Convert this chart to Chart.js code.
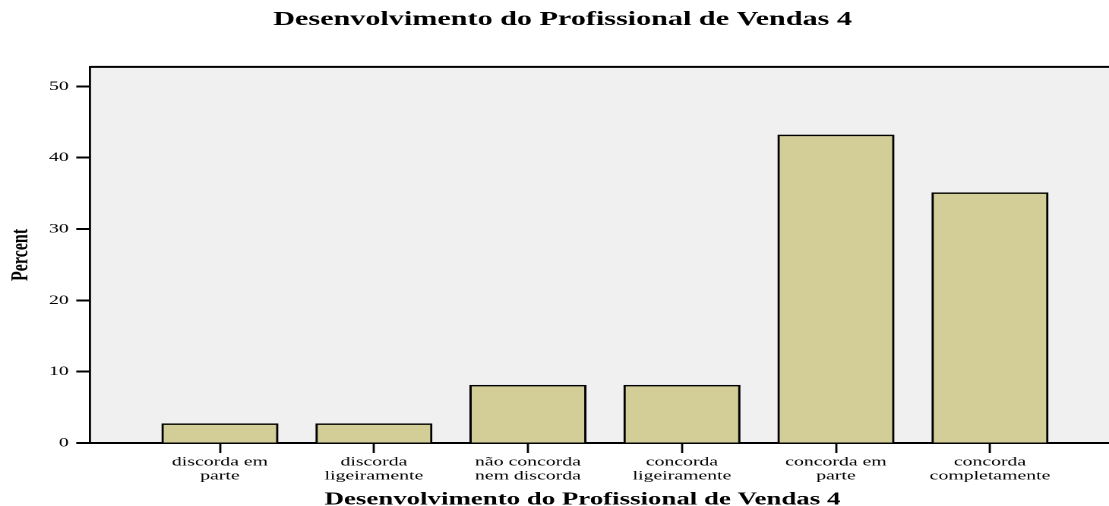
<!DOCTYPE html>
<html>
<head>
<meta charset="utf-8">
<script src="https://cdn.jsdelivr.net/npm/chart.js@4.4.1/dist/chart.umd.min.js"></script>
<style>
    body { margin: 0; background: #ffffff; overflow: hidden; }
    /* the original picture is stretched sideways, so draw narrow and widen */
    #ChartView {
        width: 730px; height: 506px; position: relative;
        transform: scaleX(1.5192); transform-origin: 0 0;
    }
</style>
</head>
<body>
<div id="ChartView"><canvas id="myChart"></canvas></div>
<script>
// chart data
var chartTitle = "Desenvolvimento do Profissional de Vendas 4";
var xAxisTitle = "Desenvolvimento do Profissional de Vendas 4";
var yAxisTitle = "Percent";
var categories = [
    ["discorda em", "parte"],
    ["discorda", "ligeiramente"],
    ["não concorda", "nem discorda"],
    ["concorda", "ligeiramente"],
    ["concorda em", "parte"],
    ["concorda", "completamente"]
];
var percents = [2.7, 2.7, 8.1, 8.1, 43.2, 35.1];
var yTicks = [0, 10, 20, 30, 40, 50];

// grey plot area + top frame line
var plotFrame = {
    id: 'plotFrame',
    beforeDraw: function (chart) {
        var a = chart.chartArea, c = chart.ctx;
        c.save();
        c.fillStyle = '#f0f0f0';
        c.fillRect(a.left, a.top, a.right - a.left, a.bottom - a.top);
        c.strokeStyle = '#000';
        c.lineWidth = 2;
        c.beginPath();
        c.moveTo(a.left, a.top);
        c.lineTo(a.right, a.top);
        c.stroke();
        c.restore();
    }
};

// x axis caption, sits a bit left of the plot centre like the original
var xCaption = {
    id: 'xCaption',
    afterDraw: function (chart) {
        var c = chart.ctx;
        c.save();
        c.fillStyle = '#000';
        c.font = 'bold 17.7px "Liberation Serif"';
        c.textAlign = 'center';
        c.textBaseline = 'middle';
        c.fillText(xAxisTitle, 383.4, 500);
        c.restore();
    }
};

const ctx = document.getElementById('myChart');
new Chart(ctx, {
    type: 'bar',
    data: {
        datasets: [{
            data: percents.map(function (v, i) { return { x: i, y: v }; }),
            backgroundColor: '#d3ce98',
            borderColor: '#000000',
            borderWidth: 1.5,
            barThickness: 76.4
        }]
    },
    plugins: [plotFrame, xCaption],
    options: {
        responsive: true,
        maintainAspectRatio: false,
        animation: false,
        devicePixelRatio: 2,
        layout: { padding: { left: 10.6, right: 0, top: 0, bottom: 0 } },
        plugins: {
            legend: { display: false },
            tooltip: { enabled: false },
            title: {
                display: true,
                text: chartTitle,
                color: '#000',
                font: { family: 'Liberation Serif', size: 19.85, weight: 'bold', lineHeight: 1.2 },
                padding: { top: 8, bottom: 35 }
            }
        },
        scales: {
            x: {
                type: 'linear',
                offset: false,
                min: -0.844,
                max: 5.773,
                afterBuildTicks: function (scale) {
                    scale.ticks = categories.map(function (c, i) { return { value: i }; });
                },
                afterFit: function (scale) { scale.height = 63; },
                ticks: {
                    color: '#000',
                    padding: 2,
                    maxRotation: 0,
                    autoSkip: false,
                    font: { family: 'Liberation Serif', size: 13, lineHeight: 1.08 },
                    callback: function (v) { return categories[v]; }
                },
                grid: {
                    offset: false,
                    drawOnChartArea: false,
                    tickLength: 10,
                    tickWidth: 1.4,
                    color: '#000'
                },
                border: { color: '#000', width: 2 }
            },
            y: {
                min: 0,
                max: 52.75,
                afterBuildTicks: function (scale) {
                    scale.ticks = yTicks.map(function (v) { return { value: v }; });
                },
                afterFit: function (scale) { scale.width = 48.6; },
                ticks: {
                    color: '#000',
                    padding: 5,
                    font: { family: 'Liberation Serif', size: 13 }
                },
                grid: {
                    drawOnChartArea: false,
                    tickLength: 9,
                    tickWidth: 2,
                    color: '#000'
                },
                border: { color: '#000', width: 1.4 },
                title: {
                    display: true,
                    text: yAxisTitle,
                    color: '#000',
                    font: { family: 'Liberation Serif', size: 16, weight: 'bold', lineHeight: 0.4 },
                    padding: 0
                }
            }
        }
    }
});
</script>
</body>
</html>
